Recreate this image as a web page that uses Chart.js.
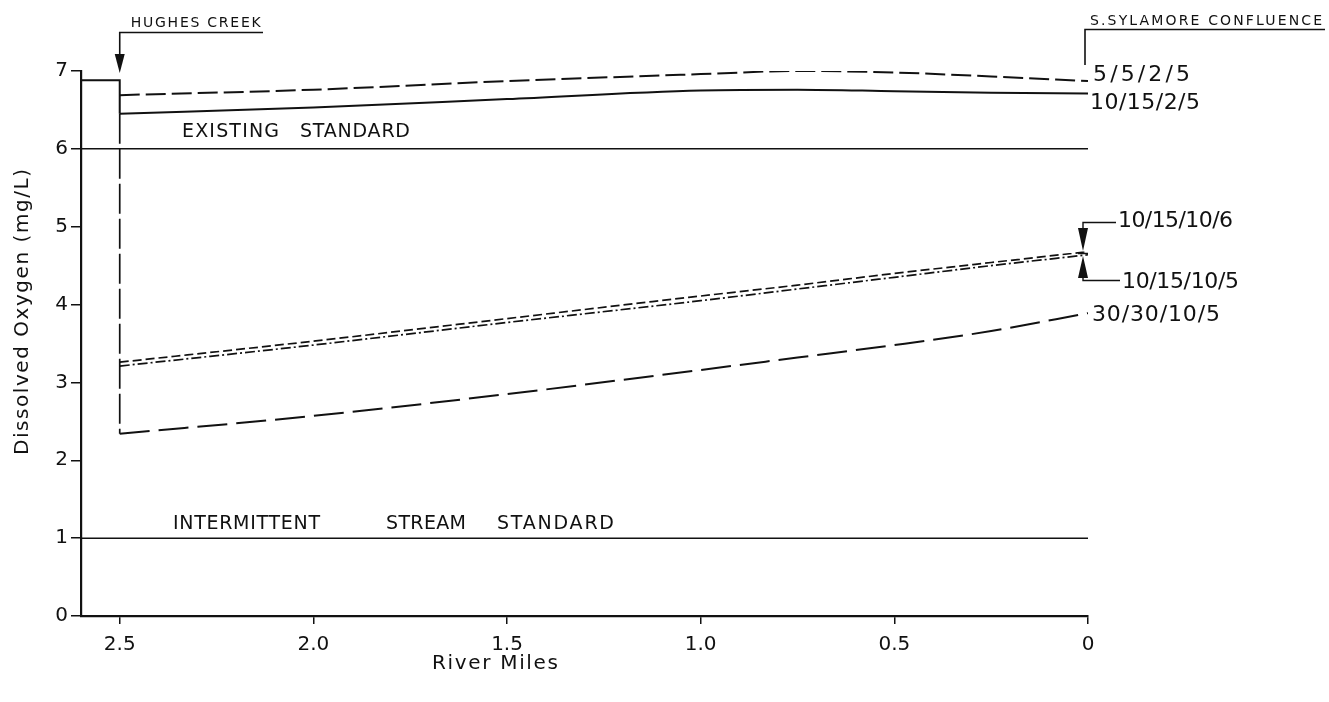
<!DOCTYPE html>
<html>
<head>
<meta charset="utf-8">
<script src="https://cdn.jsdelivr.net/npm/chart.js@4.4.1/dist/chart.umd.min.js"></script>
<style>
  html, body { margin: 0; padding: 0; background: #fff; }
  #wrap { width: 1329px; height: 702px; }
</style>
</head>
<body>
<div id="wrap"><canvas id="do"></canvas></div>
<script>
// ── DATA ─────────────────────────────────────────────
const miles = [2.5, 2.0, 1.5, 1.0, 0.75, 0.5, 0.25, 0];
const do_5_5_2_5     = [6.69, 6.76, 6.87, 6.96, 7.00, 6.98, 6.93, 6.87];
const do_10_15_2_5   = [6.45, 6.53, 6.64, 6.75, 6.76, 6.74, 6.72, 6.71];
const do_10_15_10_6  = [3.26, 3.53, 3.82, 4.11, 4.25, 4.40, 4.54, 4.68];
const do_10_15_10_5  = [3.21, 3.48, 3.77, 4.05, 4.20, 4.35, 4.50, 4.64];
const do_30_30_10_5  = [2.34, 2.57, 2.85, 3.16, 3.32, 3.48, 3.66, 3.89];

// upstream of Hughes Creek and the drop at the confluence
const upMiles = [2.6, 2.5, 2.5];
const upDO    = [6.88, 6.88, 6.45];
const dropMiles = [2.5, 2.5];
const dropDO    = [6.45, 2.34];

// standards
const stdMiles = [2.6, 0];
const existingStd = [6, 6];
const intermittentStd = [1, 1];

const xTicks = [2.5, 2.0, 1.5, 1.0, 0.5, 0];
const yTicks = [0, 1, 2, 3, 4, 5, 6, 7];

const pts = (xs, ys) => xs.map((v, i) => ({ x: v, y: ys[i] }));
const ink = '#111';
const FONT = '"DejaVu Sans", sans-serif';

function line(data, dash, width, curved) {
  return {
    data: data,
    showLine: true,
    borderColor: ink,
    borderWidth: width,
    borderDash: dash,
    pointRadius: 0,
    fill: false,
    tension: 0,
    cubicInterpolationMode: curved ? 'monotone' : 'default',
  };
}

// letter-spaced text fitted to a width
function fitText(ctx, str, x, y, w) {
  ctx.letterSpacing = '0px';
  const m = ctx.measureText(str).width;
  const sp = str.length > 1 ? (w - m) / (str.length - 1) : 0;
  ctx.letterSpacing = sp + 'px';
  ctx.fillText(str, x, y);
  ctx.letterSpacing = '0px';
}

function tri(ctx, x, tip, base, half) {
  ctx.beginPath();
  ctx.moveTo(x, tip);
  ctx.lineTo(x - half, base);
  ctx.lineTo(x + half, base);
  ctx.closePath();
  ctx.fill();
}

// ── ANNOTATIONS ──────────────────────────────────────
const notes = {
  id: 'notes',
  afterDraw(chart) {
    const { ctx, scales: { x, y } } = chart;
    const x0 = x.getPixelForValue(0);
    const hx = x.getPixelForValue(2.5);
    ctx.save();
    ctx.fillStyle = ink;
    ctx.strokeStyle = ink;
    ctx.lineWidth = 1.6;
    ctx.textBaseline = 'middle';
    ctx.textAlign = 'left';

    // Hughes Creek
    ctx.font = '14px ' + FONT;
    fitText(ctx, 'HUGHES CREEK', hx + 11, 23, 130);
    ctx.beginPath();
    ctx.moveTo(263, 32.5); ctx.lineTo(hx, 32.5); ctx.lineTo(hx, 58);
    ctx.stroke();
    tri(ctx, hx, 73, 54, 5);

    // S. Sylamore confluence
    fitText(ctx, 'S.SYLAMORE CONFLUENCE', x0 + 2, 21, 232);
    ctx.beginPath();
    ctx.moveTo(1325, 29.5); ctx.lineTo(x0 - 3, 29.5); ctx.lineTo(x0 - 3, 65);
    ctx.stroke();

    // standards
    ctx.font = '19px ' + FONT;
    fitText(ctx, 'EXISTING', 182, 132, 97);
    fitText(ctx, 'STANDARD', 300, 132, 110);
    fitText(ctx, 'INTERMITTENT', 173, 524, 147);
    fitText(ctx, 'STREAM', 386, 524, 80);
    fitText(ctx, 'STANDARD', 497, 524, 117);

    // series labels
    ctx.font = '22px ' + FONT;
    fitText(ctx, '5/5/2/5', x0 + 5, 75, 97);
    fitText(ctx, '10/15/2/5', x0 + 2, 103, 110);
    fitText(ctx, '10/15/10/6', x0 + 30, 221, 115);
    fitText(ctx, '10/15/10/5', x0 + 34, 282, 117);
    fitText(ctx, '30/30/10/5', x0 + 4, 315, 128);

    // leaders for the 10/15/10 pair
    const ax = x0 - 5;
    ctx.lineWidth = 1.4;
    ctx.beginPath();
    ctx.moveTo(x0 + 28, 222.5); ctx.lineTo(ax, 222.5); ctx.lineTo(ax, 232);
    ctx.moveTo(x0 + 32, 280.5); ctx.lineTo(ax, 280.5); ctx.lineTo(ax, 270);
    ctx.moveTo(ax - 5, 253.5); ctx.lineTo(ax + 5, 253.5);
    ctx.stroke();
    tri(ctx, ax, 251, 228, 5);
    tri(ctx, ax, 256, 278, 5);

    // axis titles
    ctx.font = '20px ' + FONT;
    fitText(ctx, 'River Miles', 432, 664, 126);
    ctx.translate(23, 312);
    ctx.rotate(-Math.PI / 2);
    fitText(ctx, 'Dissolved Oxygen (mg/L)', -143, 0, 286);
    ctx.restore();
  }
};

// ── CHART ────────────────────────────────────────────
new Chart(document.getElementById('do'), {
  type: 'scatter',
  data: {
    datasets: [
      line(pts(stdMiles, existingStd), [], 1.5, false),
      line(pts(stdMiles, intermittentStd), [], 1.5, false),
      line(pts(upMiles, upDO), [], 2, false),
      line(pts(dropMiles, dropDO), [30, 5], 1.7, false),
      line(pts(miles, do_5_5_2_5), [20, 6], 2, true),
      line(pts(miles, do_10_15_2_5), [], 2, true),
      line(pts(miles, do_10_15_10_6), [9, 4], 1.7, true),
      line(pts(miles, do_10_15_10_5), [10, 3, 2, 3], 1.7, true),
      line(pts(miles, do_30_30_10_5), [30, 9], 2, true),
    ]
  },
  options: {
    responsive: true,
    maintainAspectRatio: false,
    animation: false,
    layout: { padding: { top: 71, right: 241, bottom: 0, left: 0 } },
    plugins: { legend: { display: false }, tooltip: { enabled: false } },
    scales: {
      x: {
        type: 'linear',
        reverse: true,
        min: 0, max: 2.6,
        afterFit: s => { s.height = 86; },
        afterBuildTicks: s => { s.ticks = xTicks.map(v => ({ value: v })); },
        grid: { drawOnChartArea: false, drawTicks: true, tickLength: 8, color: ink, lineWidth: 1.5 },
        border: { display: true, color: ink, width: 2.2 },
        ticks: {
          color: ink, padding: 9,
          font: { family: FONT, size: 20 },
          maxRotation: 0,
          callback: v => v === 0 ? '0' : v.toFixed(1)
        }
      },
      y: {
        min: 0, max: 7,
        afterFit: s => { s.width = 81; },
        afterBuildTicks: s => { s.ticks = yTicks.map(v => ({ value: v })); },
        grid: { drawOnChartArea: false, drawTicks: true, tickLength: 10, color: ink, lineWidth: 1.5 },
        border: { display: true, color: ink, width: 2.2 },
        ticks: {
          color: ink, padding: 3,
          font: { family: FONT, size: 20 }
        }
      }
    }
  },
  plugins: [notes]
});
</script>
</body>
</html>
